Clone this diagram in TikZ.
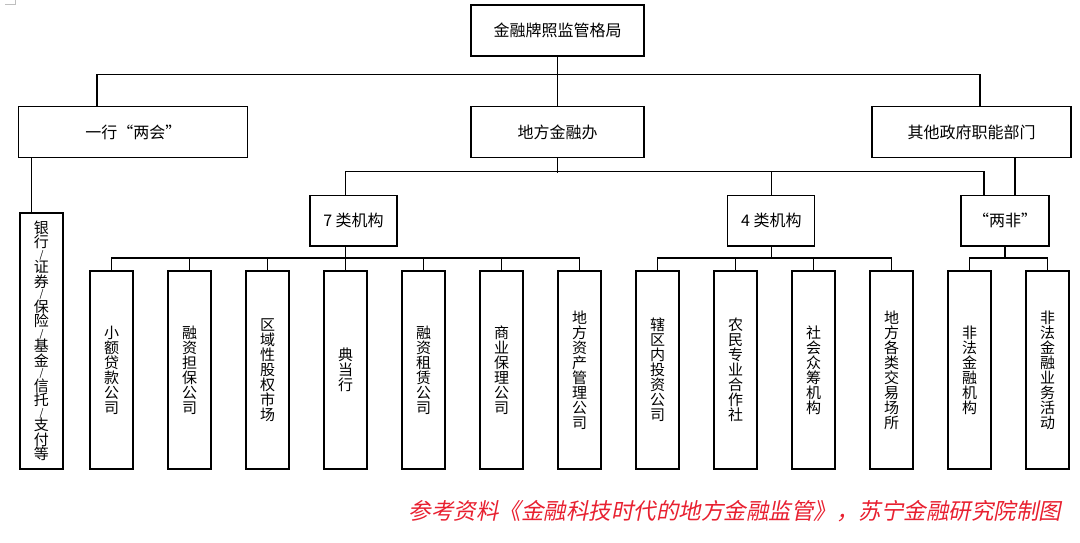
\documentclass[tikz,border=0pt]{standalone}
\usepackage{fontspec}
\newfontfamily\cjk{Noto Sans CJK SC}
\newfontfamily\refcjk[FakeSlant=0.2]{Noto Sans CJK SC}
\definecolor{refred}{RGB}{232,32,48}
\newcommand\slsep{{\fontsize{10}{10}\selectfont /}}
\begin{document}
\begin{tikzpicture}[x=1pt,y=-1pt,line width=1.2pt,
  box/.style={draw, rectangle, inner sep=0pt, minimum height=51pt, font=\cjk\fontsize{16}{18}\selectfont},
  vbox/.style={draw, rectangle, inner sep=0pt, minimum width=43pt, minimum height=198pt, align=center, font=\cjk\fontsize{15}{15}\selectfont}]
\useasboundingbox (0,0) rectangle (1080,543);
\draw[gray!50, line width=0.8pt] (5,4.5) -- (15.5,4.5) -- (15.5,0);
\node[box, minimum width=173pt] (top) at (557.5,30.5) {金融牌照监管格局};
\node[box, minimum width=229pt] (yh) at (133.3,132) {一行“两会”};
\node[box, minimum width=173pt] (dfj) at (557.5,132) {地方金融办};
\node[box, minimum width=199pt] (qt) at (971.5,132) {其他政府职能部门};
\node[box, minimum width=87pt, minimum height=50.5pt] (s7) at (353.5,220.8) {7 类机构};
\node[box, minimum width=87pt, minimum height=50.5pt] (s4) at (771.3,220.8) {4 类机构};
\node[box, minimum width=88pt, minimum height=50.5pt] (lf) at (1005,220.8) {“两非”};
\node[vbox, minimum height=256pt, font=\cjk\fontsize{15}{14.5}\selectfont] (bank) at (41.5,341) {银\\行\\[-4pt]\slsep\\证\\券\\[-4pt]\slsep\\保\\险\\[-4pt]\slsep\\基\\金\\[-4pt]\slsep\\信\\托\\[-4pt]\slsep\\支\\付\\等};
\foreach \txt [count=\i from 0] in {{小\\额\\贷\\款\\公\\司}, {融\\资\\担\\保\\公\\司}, {区\\域\\性\\股\\权\\市\\场}, {典\\当\\行}, {融\\资\\租\\赁\\公\\司}, {商\\业\\保\\理\\公\\司}, {地\\方\\资\\产\\管\\理\\公\\司}, {辖\\区\\内\\投\\资\\公\\司}, {农\\民\\专\\业\\合\\作\\社}, {社\\会\\众\\筹\\机\\构}, {地\\方\\各\\类\\交\\易\\场\\所}, {非\\法\\金\\融\\机\\构}, {非\\法\\金\\融\\业\\务\\活\\动}}
  \node[vbox] (k\i) at ({111.5+78*\i},370) {\txt};
\node[font=\refcjk\fontsize{22.5}{24}\selectfont, text=refred, anchor=west, inner sep=0pt] (src) at (408,511) {参考资料《金融科技时代的地方金融监管》，苏宁金融研究院制图};
\draw (top.south) -- (dfj.north);
\draw ([xshift=-36.3pt]yh.north) -- ++(0,-31.5) -| ([xshift=8.5pt]qt.north);
\draw ([xshift=12pt]bank.north west) -- ++(0,-55.4);
\draw (dfj.south) -- ++(0,14.4);
\draw (s7.north -| k3.north) -- ++(0,-23.5) -| ([xshift=-21pt]lf.north);
\draw (s4.north) -- ++(0,-23.5);
\draw ([xshift=10pt]lf.north) -- ++(0,-37.9);
\draw (k3.north) -- (k3.north |- s7.south);
\draw (k0.north) -- ++(0,-12.4) -| (k6.north);
\foreach \i in {1,...,5} \draw (k\i.north) -- ++(0,-12.4);
\draw (s4.south) -- ++(0,12.6);
\draw (k7.north) -- ++(0,-12.4) -| (k10.north);
\foreach \i in {8,9} \draw (k\i.north) -- ++(0,-12.4);
\draw (lf.south) -- ++(0,12.6);
\draw (k11.north) -- ++(0,-12.4) -| (k12.north);
\end{tikzpicture}
\end{document}
